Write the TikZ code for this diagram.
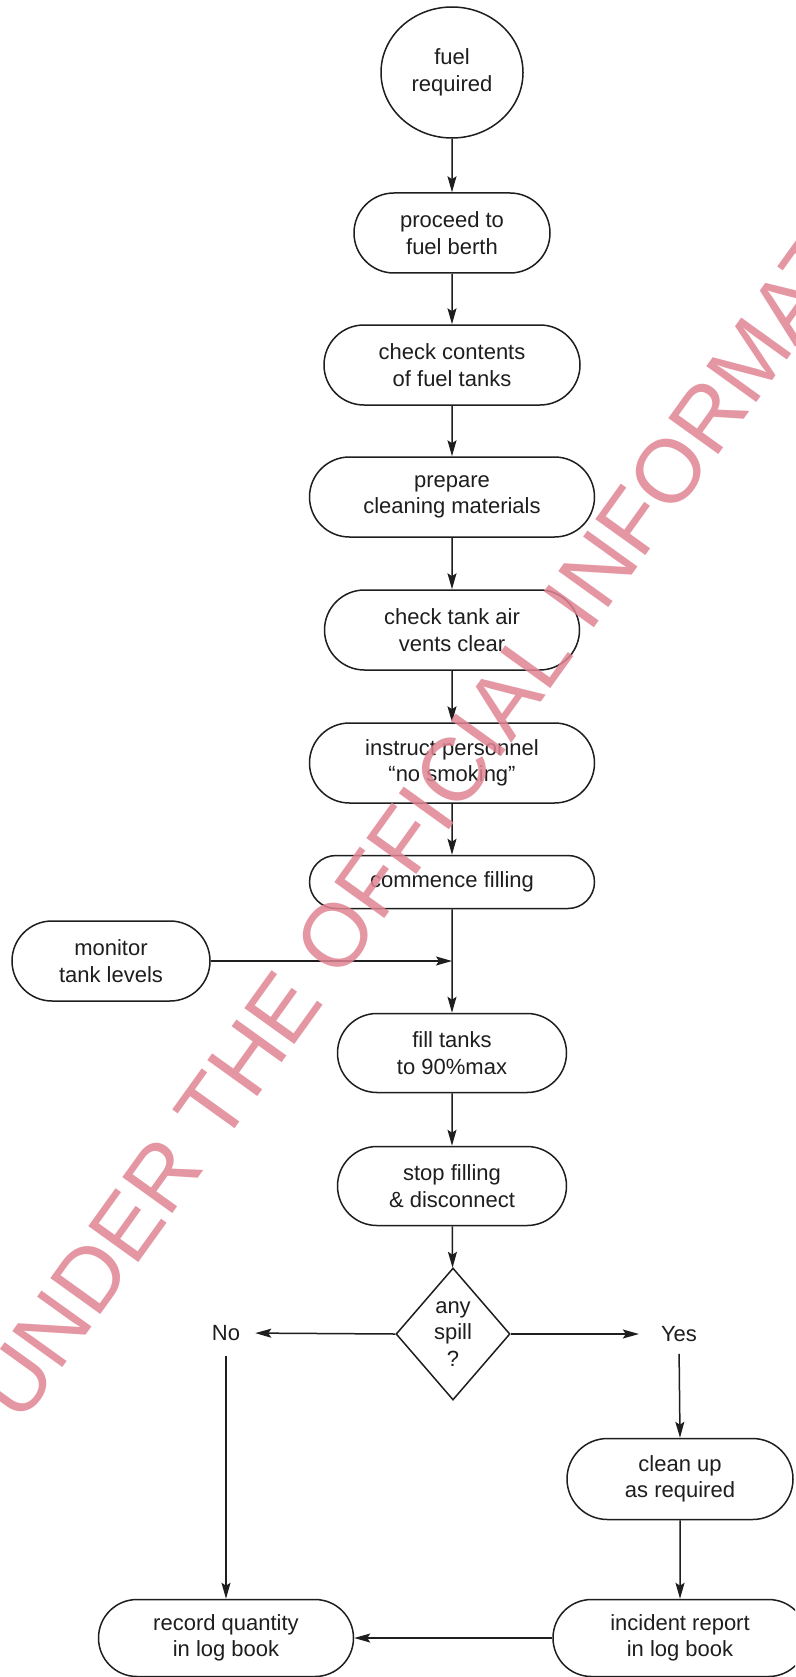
\documentclass[tikz,border=0pt]{standalone}
\usepackage{fontspec}
\setmainfont{Liberation Sans}
\usetikzlibrary{arrows.meta,shapes.geometric,shapes.misc}
\definecolor{stampred}{RGB}{224,132,146}
\definecolor{ink}{RGB}{30,30,30}
\begin{document}
\begin{tikzpicture}[x=1pt,y=-1pt,
  every node/.style={font=\fontsize{22}{26.5}\selectfont, text=ink},
  flow/.style={draw=ink, line width=1.5pt, rounded rectangle, inner sep=0pt,
               align=center, minimum height=80pt},
  link/.style={draw=ink, line width=1.5pt, -{Stealth[length=16pt,width=9pt,inset=3pt]}},
  answer/.style={inner sep=3pt},
]
\useasboundingbox (0,0) rectangle (795,1677);
\clip (0,0) rectangle (795,1677);
\fill[white] (0,0) rectangle (795,1677);

% main column
\node[draw=ink, ellipse, line width=1.5pt, minimum width=142pt, minimum height=131pt,
      inner sep=0pt, align=center] (fuel) at (452,72.5) {fuel\\required};
\node[flow, minimum width=196pt] (proceed)  at (452,233)  {proceed to\\fuel berth};
\node[flow, minimum width=256pt] (contents) at (452,365)  {check contents\\of fuel tanks};
\node[flow, minimum width=285pt] (prepare)  at (452,497)  {prepare\\cleaning materials};
\node[flow, minimum width=255pt] (vents)    at (452,630)  {check tank air\\vents clear};
\node[flow, minimum width=285pt] (instruct) at (452,763)  {instruct personnel\\``no smoking''};
\node[flow, minimum width=285pt, minimum height=53pt] (commence) at (452,882) {commence filling};
\node[flow, minimum width=198pt] (monitor)  at (111,961)  {monitor\\tank levels};
\node[flow, minimum width=229pt, minimum height=79pt] (fill) at (452,1053) {fill tanks\\to 90\%max};
\node[flow, minimum width=229pt, minimum height=79pt] (stop) at (452,1186) {stop filling\\\& disconnect};

% decision
\node[draw=ink, diamond, line width=1.5pt, aspect=0.864, minimum width=114pt,
      minimum height=132pt, inner sep=0pt, align=center] (spill) at (453,1334) {any\\spill\\?};
\node[answer] (no)  at (226,1333) {No};
\node[answer] (yes) at (679,1334) {Yes};

% branches
\node[flow, minimum width=226pt, minimum height=81pt] (clean)    at (680,1479) {clean up\\as required};
\node[flow, minimum width=255pt, minimum height=77pt] (record)   at (226,1638) {record quantity\\in log book};
\node[flow, minimum width=254pt, minimum height=77pt] (incident) at (680,1638) {incident report\\in log book};

% connectors
\draw[link] (fuel) -- (proceed);
\draw[link] (proceed) -- (contents);
\draw[link] (contents) -- (prepare);
\draw[link] (prepare) -- (vents);
\draw[link] (vents) -- (instruct);
\draw[link] (instruct) -- (commence);
\draw[link] (commence) -- (fill);
\draw[link] (monitor.east) -- (monitor.east -| commence.south);
\draw[link] (fill) -- (stop);
\draw[link] (stop) -- (spill);
\draw[link, shorten >=12pt] (spill.west) -- (no.east);
\draw[link, shorten >=19pt] (spill.east) -- (yes.west);
\draw[link, shorten <=12pt] (no.south) -- (record.north);
\draw[link, shorten <=9pt] (yes.south) -- (clean.north);
\draw[link] (clean) -- (incident);
\draw[link] (incident.west) -- (record.east);

% stamp across the sheet
\node[font=\fontsize{89.5}{89.5}\selectfont, text=stampred, text opacity=0.85,
      rotate=54.3, anchor=base west, inner sep=0pt] (stamp) at (20.9,1425.7)
      {UNDER THE OFFICIAL INFORMAT};
\end{tikzpicture}
\end{document}
